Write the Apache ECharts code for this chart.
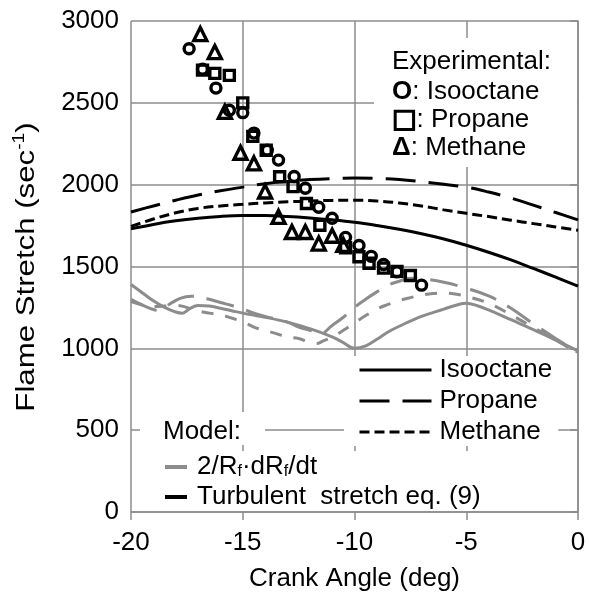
<!DOCTYPE html>
<html><head><meta charset="utf-8">
<script src="https://cdn.jsdelivr.net/npm/echarts@6/dist/echarts.min.js"></script>
<style>html,body{margin:0;padding:0;background:#fff}#c{width:589px;height:597px}</style>
</head><body><div id="c"></div>
<script>
// ---- data ----
const xTicks = [-20, -15, -10, -5, 0];
const yTicks = [0, 500, 1000, 1500, 2000, 2500, 3000];

// Turbulent stretch eq. (9)
const turbIsooctane = [[-20,1730],[-19,1757],[-18,1779],[-17,1795],[-16,1806],[-15,1811],[-14,1811],[-13,1806],[-12,1797],[-11,1785],[-10,1770],[-9,1750],[-8,1727],[-7,1700],[-6,1668],[-5,1630],[-4,1587],[-3,1540],[-2,1488],[-1,1435],[0,1380]];
const turbPropane = [[-20,1833],[-19,1870],[-18,1905],[-17,1937],[-16,1963],[-15,1985],[-14,2006],[-13,2021],[-12,2031],[-11,2037],[-10,2040],[-9,2038],[-8,2031],[-7,2018],[-6,2002],[-5,1985],[-4,1955],[-3,1918],[-2,1875],[-1,1830],[0,1785]];
const turbMethane = [[-20,1745],[-19,1790],[-18,1828],[-17,1855],[-16,1870],[-15,1880],[-14,1888],[-13,1895],[-12,1900],[-11,1904],[-10,1905],[-9,1900],[-8,1888],[-7,1870],[-6,1846],[-5,1825],[-4,1805],[-3,1783],[-2,1762],[-1,1742],[0,1722]];

// 2/Rf dRf/dt
const rateIsooctane = [[-20,1390],[-19.5,1340],[-19,1290],[-18.5,1250],[-18,1222],[-17.7,1215],[-17.4,1240],[-17,1262],[-16.5,1258],[-16,1245],[-15.5,1230],[-15,1215],[-14,1190],[-13,1160],[-12,1120],[-11,1070],[-10.5,1035],[-10,1000],[-9.5,1015],[-9,1055],[-8.5,1100],[-8,1135],[-7,1195],[-6,1240],[-5.5,1262],[-5,1275],[-4.5,1260],[-4,1235],[-3,1175],[-2,1115],[-1,1050],[0,985]];
const ratePropane = [[-20,1300],[-19.5,1265],[-19,1237],[-18.7,1232],[-18.3,1268],[-17.8,1305],[-17.3,1318],[-17,1316],[-16.5,1300],[-16,1280],[-15.5,1262],[-15,1240],[-14.5,1215],[-14,1195],[-13,1160],[-12.5,1130],[-12,1110],[-11.5,1092],[-11,1140],[-10.5,1190],[-10,1250],[-9.5,1300],[-9,1345],[-8.5,1385],[-8,1410],[-7.5,1428],[-7,1425],[-6,1404],[-5,1367],[-4,1320],[-3,1245],[-2,1150],[-1,1060],[0,975]];
const rateMethane = [[-20,1285],[-19,1255],[-18,1262],[-17,1228],[-16.5,1215],[-16,1205],[-15.5,1185],[-15,1162],[-14.5,1130],[-14,1108],[-13.5,1090],[-13,1068],[-12.5,1060],[-12,1036],[-11.7,1030],[-11.4,1045],[-11,1068],[-10.5,1110],[-10,1155],[-9.5,1200],[-9,1240],[-8.5,1268],[-8,1292],[-7.5,1310],[-7,1325],[-6.5,1335],[-6,1338],[-5.5,1332],[-5,1318],[-4,1275],[-3,1205],[-2,1128],[-1,1050],[0,972]];

// Experimental
const expIsooctane = [[-17.4,2830],[-16.8,2705],[-16.2,2590],[-15.6,2455],[-15.0,2440],[-14.5,2315],[-13.9,2210],[-13.4,2150],[-12.7,2050],[-12.2,1978],[-11.6,1862],[-11.0,1795],[-10.4,1678],[-9.8,1628],[-9.25,1562],[-8.7,1512],[-8.1,1467],[-7.0,1386]];
const expPropane = [[-16.8,2700],[-16.25,2680],[-15.6,2668],[-15.0,2500],[-14.55,2295],[-13.95,2210],[-13.35,2048],[-12.75,1988],[-12.15,1885],[-11.55,1752],[-10.4,1615],[-9.8,1560],[-9.35,1520],[-8.7,1490],[-8.1,1470],[-7.5,1445]];
const expMethane = [[-16.9,2920],[-16.25,2810],[-15.8,2445],[-15.1,2195],[-14.5,2130],[-14.0,1958],[-13.4,1803],[-12.8,1711],[-12.2,1711],[-11.6,1640],[-11.0,1688],[-10.5,1632]];

const FONT = 'Liberation Sans, Arial, sans-serif';
const FS = 26;
const GRAY = '#8c8c8c';
const chart = echarts.init(document.getElementById('c'), null, {renderer: 'canvas'});

function lineSeries(name, data, color, dash) {
  return {
    name: name, type: 'line', data: data, smooth: 0.4, symbol: 'none',
    lineStyle: {color: color, width: 3, type: dash},
    itemStyle: {color: color},
    z: 3, silent: true
  };
}
function scatterSeries(name, data, symbol, size) {
  return {
    name: name, type: 'scatter', data: data, symbol: symbol, symbolSize: size,
    itemStyle: {color: 'rgba(255,255,255,0)', borderColor: '#000', borderWidth: 3.4, opacity: 1},
    z: 5, silent: true
  };
}

const option = {
  animation: false,
  backgroundColor: '#fff',
  textStyle: {fontFamily: FONT},
  grid: {left: 131, right: 11, top: 21, bottom: 85},
  xAxis: {
    type: 'value', min: -20, max: 0, interval: 5,
    name: 'Crank Angle (deg)', nameLocation: 'middle', nameGap: 54,
    nameTextStyle: {fontSize: FS, color: '#000', fontFamily: FONT},
    axisLine: {show: true, onZero: false, lineStyle: {color: GRAY, width: 1.5}},
    axisTick: {show: true, length: 8, lineStyle: {color: GRAY, width: 1.5}},
    axisLabel: {fontSize: FS, color: '#000', margin: 18, fontFamily: FONT,
      formatter: v => xTicks.includes(v) ? String(v) : ''},
    splitLine: {show: true, lineStyle: {color: GRAY, width: 1.5}}
  },
  yAxis: {
    type: 'value', min: 0, max: 3000, interval: 500,
    axisLine: {show: true, lineStyle: {color: GRAY, width: 1.5}},
    axisTick: {show: true, length: 8, lineStyle: {color: GRAY, width: 1.5}},
    axisLabel: {fontSize: FS, color: '#000', margin: 12, fontFamily: FONT,
      formatter: v => yTicks.includes(v) ? String(v) : ''},
    splitLine: {show: true, lineStyle: {color: GRAY, width: 1.5}}
  },
  legend: [
    {
      orient: 'vertical', left: 344, top: 356, selectedMode: false,
      data: ['Isooctane', 'Propane', 'Methane'],
      itemWidth: 72, itemHeight: 14, itemGap: 5,
      padding: [1, 6, 1, 14], backgroundColor: '#fff', z: 20,
      itemStyle: {opacity: 0, borderWidth: 0},
      lineStyle: {width: 3},
      textStyle: {fontSize: FS, color: '#000', fontFamily: FONT, padding: [0, 0, 0, 3]}
    },
    {
      orient: 'vertical', left: 153, top: 451, selectedMode: false,
      data: ['2/Rf·dRf/dt', 'Turbulent  stretch eq. (9)'],
      itemWidth: 22, itemHeight: 14, itemGap: 4,
      padding: [3, 8, 1, 10], backgroundColor: '#fff', z: 20,
      itemStyle: {opacity: 0, borderWidth: 0},
      lineStyle: {width: 4},
      formatter: n => n.indexOf('2/') === 0 ? '2/R{s|f}·dR{s|f}/dt' : n,
      textStyle: {fontSize: FS, color: '#000', fontFamily: FONT, lineHeight: 26, padding: [0, 0, 0, 5],
        rich: {s: {fontSize: 16, lineHeight: 14, verticalAlign: 'bottom', color: '#000', fontFamily: FONT}}}
    }
  ],
  graphic: [
    {type: 'text', z: 31, x: 27, y: 267, rotation: Math.PI / 2, scaleX: 1.2,
      style: {text: 'Flame Stretch (sec{sup|-1})', font: FS + 'px ' + FONT, fill: '#000', align: 'center', verticalAlign: 'middle',
        lineHeight: 30, rich: {sup: {fontSize: 16, lineHeight: 16, verticalAlign: 'top', fontFamily: FONT, fill: '#000'}}}},
    {type: 'rect', z: 30, shape: {x: 140, y: 412, width: 125, height: 33}, style: {fill: '#fff'}},
    {type: 'text', z: 31, x: 163, y: 432, style: {text: 'Model:', font: FS + 'px ' + FONT, fill: '#000', verticalAlign: 'middle'}},
    {type: 'rect', z: 30, shape: {x: 374, y: 38, width: 203, height: 129}, style: {fill: '#fff'}},
    {type: 'text', z: 31, x: 392, y: 62, style: {text: 'Experimental:', font: FS + 'px ' + FONT, fill: '#000', verticalAlign: 'middle'}},
    {type: 'text', z: 31, x: 392, y: 92, style: {text: '{b|O}: Isooctane', font: FS + 'px ' + FONT, fill: '#000', verticalAlign: 'middle',
      rich: {b: {fontWeight: 'bold', fontSize: FS, fontFamily: FONT}}}},
    {type: 'text', z: 31, x: 392, y: 120, style: {text: '{b|□}: Propane', font: FS + 'px ' + FONT, fill: '#000', verticalAlign: 'middle',
      rich: {b: {fontWeight: 'bold', fontSize: FS, fontFamily: 'DejaVu Sans', stroke: '#000', lineWidth: 1.6}}}},
    {type: 'text', z: 31, x: 392, y: 148, style: {text: '{b|Δ}: Methane', font: FS + 'px ' + FONT, fill: '#000', verticalAlign: 'middle',
      rich: {b: {fontWeight: 'bold', fontSize: FS, fontFamily: FONT}}}}
  ],
  series: [
    lineSeries('Isooctane (2/Rf·dRf/dt)', rateIsooctane, GRAY, 'solid'),
    lineSeries('Propane (2/Rf·dRf/dt)', ratePropane, GRAY, [28, 13]),
    lineSeries('Methane (2/Rf·dRf/dt)', rateMethane, GRAY, [12, 12]),
    lineSeries('Isooctane', turbIsooctane, '#000', 'solid'),
    lineSeries('Propane', turbPropane, '#000', [30, 13]),
    lineSeries('Methane', turbMethane, '#000', [10, 5]),
    lineSeries('2/Rf·dRf/dt', [], GRAY, 'solid'),
    lineSeries('Turbulent  stretch eq. (9)', [], '#000', 'solid'),
    scatterSeries('Exp Isooctane', expIsooctane, 'circle', 10),
    scatterSeries('Exp Propane', expPropane, 'rect', 10),
    scatterSeries('Exp Methane', expMethane, 'triangle', 13)
  ]
};
chart.setOption(option);
</script>
</body></html>
